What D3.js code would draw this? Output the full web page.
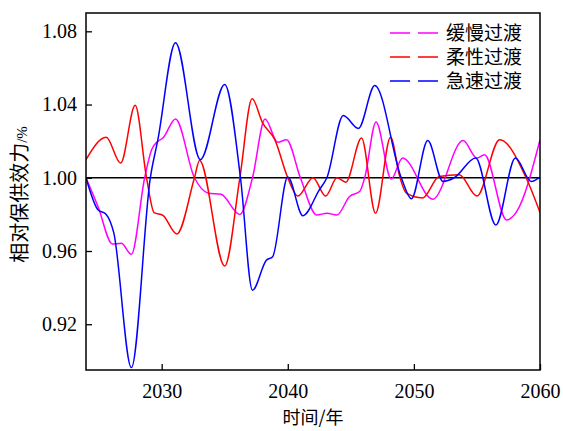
<!DOCTYPE html>
<html><head><meta charset="utf-8">
<script src="https://cdn.jsdelivr.net/npm/d3@7"></script>
<style>body{margin:0;background:#fff}svg{display:block}</style>
</head><body>
<svg id="c" width="563" height="431"></svg>
<script>
// ---- data ----
const seriesNames = ["缓慢过渡", "柔性过渡", "急速过渡"];
const slowYears  = [2024,2024.95,2026.1,2026.8,2027.6,2028.65,2029.2,2029.7,2030.1,2031.1,2032.6,2033.7,2034.7,2036.2,2037.2,2038.2,2039.2,2039.9,2041.0,2042.3,2043.1,2043.9,2044.9,2045.7,2046.1,2047.0,2048.2,2049.1,2051.5,2053.9,2055.0,2055.6,2057.35,2058.15,2060];
const slowValues = [1.000,0.9843,0.9638,0.9642,0.9582,1.000,1.0153,1.0199,1.0217,1.0321,1.000,0.9916,0.991,0.980,1.000,1.0321,1.0194,1.0208,1.000,0.9797,0.9806,0.9797,0.9898,0.9925,1.000,1.0305,0.9993,1.0108,0.9883,1.0203,1.0108,1.0126,0.977,0.9815,1.0208];
const flexYears  = [2024,2025.6,2026.75,2027.9,2028.8,2029.4,2030.1,2031.2,2032.6,2033.0,2035.0,2036.2,2037.17,2038.0,2038.97,2040.0,2040.8,2042.0,2043.0,2043.9,2044.6,2045.85,2046.96,2048.15,2048.9,2049.4,2050.7,2052.0,2053.6,2055.0,2056.8,2058.9,2060];
const flexValues = [1.0099,1.0221,1.008,1.0396,1.000,0.981,0.9795,0.9693,1.000,1.0095,0.9518,1.000,1.0431,1.030,1.0208,1.000,0.990,1.000,0.990,1.000,0.9976,1.0217,0.9806,1.0221,1.000,0.9916,0.989,1.0007,1.0016,0.990,1.0208,1.000,0.981];
const fastYears  = [2024,2024.95,2025.6,2026.2,2027.6,2029.1,2029.7,2031.1,2033.07,2035.0,2036.25,2037.2,2038.3,2038.8,2040.0,2041.2,2042.5,2043.1,2044.4,2045.6,2046.9,2049.0,2049.8,2051.1,2052.3,2053.2,2054.9,2056.5,2058.05,2059.3,2060];
const fastValues = [1.000,0.9825,0.980,0.970,0.8963,1.000,1.0208,1.0738,1.0099,1.051,1.000,0.9386,0.955,0.9569,1.0004,0.9793,0.9934,1.000,1.034,1.0269,1.0504,1.000,0.9885,1.0203,0.998,1.000,1.0108,0.9742,1.0108,0.998,1.0004];
const xTicks = [2030, 2040, 2050, 2060];
const yTicks = [0.92, 0.96, 1.00, 1.04, 1.08];
const colors = ["#ff00ff", "#ff0000", "#0000ff"];

// ---- layout ----
const L = 86, R = 540, T = 13, B = 370;
const svg = d3.select("#c");
const x = d3.scaleLinear().domain([2024, 2060]).range([L, R]);
const y = d3.scaleLinear().domain([0.895, 1.09]).range([B, T]);

const series = [
  slowYears.map((d,i)=>[d, slowValues[i]]),
  flexYears.map((d,i)=>[d, flexValues[i]]),
  fastYears.map((d,i)=>[d, fastValues[i]])
];

const line = d3.line().x(d=>x(d[0])).y(d=>y(d[1])).curve(d3.curveMonotoneX);
const g = svg.append("g");
g.append("defs").append("clipPath").attr("id","clip").append("rect")
  .attr("x",L).attr("y",T).attr("width",R-L).attr("height",B-T);

// reference line at 1.00
g.append("line").attr("x1",L).attr("x2",R).attr("y1",y(1)).attr("y2",y(1))
  .attr("stroke","#000").attr("stroke-width",1.3);

const plot = g.append("g").attr("clip-path","url(#clip)");
series.forEach((s,i)=>{
  plot.append("path").datum(s).attr("d",line).attr("fill","none")
    .attr("stroke",colors[i]).attr("stroke-width",1.5);
});

// axes (inward ticks)
const xAxis = d3.axisBottom(x).tickValues(xTicks).tickFormat(d3.format("d")).tickSize(-6).tickPadding(14);
const yAxis = d3.axisLeft(y).tickValues(yTicks).tickFormat(d3.format(".2f")).tickSize(-6).tickPadding(9);
const gx = g.append("g").attr("transform",`translate(0,${B})`).call(xAxis);
const gy = g.append("g").attr("transform",`translate(${L},0)`).call(yAxis);
[gx,gy].forEach(a=>{
  a.select(".domain").remove();
  a.selectAll(".tick line").attr("stroke","#000").attr("stroke-width",1.3);
  a.selectAll("text").attr("font-family","'Liberation Serif', serif").attr("font-size",20).attr("fill","#000");
});

// frame
g.append("rect").attr("x",L).attr("y",T).attr("width",R-L).attr("height",B-T)
  .attr("fill","none").attr("stroke","#000").attr("stroke-width",1.5);

// axis titles
svg.append("text").attr("x",(L+R)/2).attr("y",424).attr("text-anchor","middle")
  .attr("font-family","'Noto Sans CJK SC', sans-serif").attr("font-size",18).attr("fill","#000")
  .text("时间/年");
const yl = svg.append("text").attr("transform",`translate(27,${(T+B)/2+3}) rotate(-90)`)
  .attr("text-anchor","middle").attr("font-family","'Noto Sans CJK SC', sans-serif")
  .attr("font-size",20).attr("fill","#000");
yl.append("tspan").text("相对保供效力");
yl.append("tspan").attr("font-size",15).attr("font-family","'Liberation Serif', serif").text("/%");

// legend
const lg = svg.append("g");
seriesNames.forEach((n,i)=>{
  const yy = 33 + i*24;
  lg.append("line").attr("x1",390).attr("x2",438).attr("y1",yy).attr("y2",yy)
    .attr("stroke",colors[i]).attr("stroke-width",1.5).attr("stroke-dasharray","20,8");
  lg.append("text").attr("x",446).attr("y",yy+7).attr("font-family","'Noto Sans CJK SC', sans-serif")
    .attr("font-size",19).attr("fill","#000").text(n);
});
</script>
</body></html>
